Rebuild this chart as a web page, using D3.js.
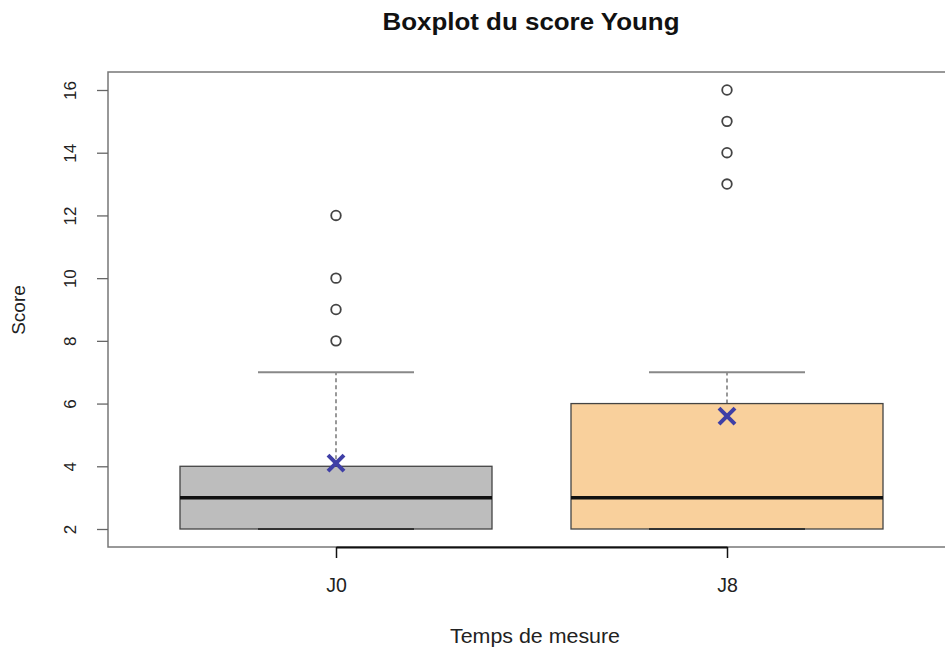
<!DOCTYPE html>
<html><head><meta charset="utf-8">
<script src="https://cdn.jsdelivr.net/npm/d3@7"></script>
<style>body{margin:0;background:#fff}svg{display:block}svg text{font-family:"Liberation Sans",Arial,sans-serif}</style>
</head><body><svg id="c" width="945" height="655"></svg>
<script>
const categories = ["J0", "J8"];
const q1 = [2, 2];
const medians = [3, 3];
const q3 = [4, 6];
const whiskLow = [2, 2];
const whiskHigh = [7, 7];
const means = [4.1, 5.6];
const outliers = [[8, 9, 10, 12], [13, 14, 15, 16]];
const fills = ["#bdbdbd", "#f9d09c"];
const yTicks = [2, 4, 6, 8, 10, 12, 14, 16];

(function () {
const svg = d3.select("#c");
const pLeft = 108, pTop = 72, pBottom = 547, pRight = 1000;
const y = d3.scaleLinear().domain([2, 16]).range([529, 90]);
const x = d3.scalePoint().domain(categories).range([336, 727]);
const halfW = 156, capW = 78;

svg.append("rect").attr("x", pLeft).attr("y", pTop).attr("width", pRight - pLeft).attr("height", pBottom - pTop)
  .attr("fill", "none").attr("stroke", "#777").attr("stroke-width", 1.5);

const ya = svg.append("g").attr("transform", `translate(${pLeft},0)`)
  .call(d3.axisLeft(y).tickValues(yTicks).tickSize(11).tickPadding(0).tickFormat(d3.format("d")));
ya.select(".domain").remove();
ya.selectAll(".tick line").attr("stroke", "#666").attr("stroke-width", 1.3);
ya.selectAll(".tick text").attr("transform", "rotate(-90)").attr("x", 0).attr("y", -38)
  .attr("dy", "0.35em").attr("text-anchor", "middle").style("font-size", "17px").attr("fill", "#222");

const xa = svg.append("g").attr("transform", `translate(0,${pBottom})`)
  .call(d3.axisBottom(x).tickSize(11).tickPadding(0).tickSizeOuter(0));
xa.select(".domain").attr("stroke", "#111").attr("stroke-width", 2);
xa.selectAll(".tick line").attr("stroke", "#111").attr("stroke-width", 1.5);
xa.selectAll(".tick text").attr("y", 45).attr("dy", 0).style("font-size", "19.5px").attr("fill", "#222");

const g = svg.append("g");
categories.forEach((c, i) => {
  const cx = x(c);
  g.append("line").attr("x1", cx).attr("x2", cx).attr("y1", y(q3[i])).attr("y2", y(whiskHigh[i]))
    .attr("stroke", "#555").attr("stroke-width", 1.2).attr("stroke-dasharray", "4,3");
  g.append("line").attr("x1", cx - capW).attr("x2", cx + capW).attr("y1", y(whiskHigh[i])).attr("y2", y(whiskHigh[i]))
    .attr("stroke", "#888").attr("stroke-width", 2);
  g.append("rect").attr("x", cx - halfW).attr("width", 2 * halfW)
    .attr("y", y(q3[i])).attr("height", y(q1[i]) - y(q3[i]))
    .attr("fill", fills[i]).attr("stroke", "#444").attr("stroke-width", 1.3);
  g.append("line").attr("x1", cx - capW).attr("x2", cx + capW).attr("y1", y(whiskLow[i])).attr("y2", y(whiskLow[i]))
    .attr("stroke", "#333").attr("stroke-width", 2);
  g.append("line").attr("x1", cx - halfW).attr("x2", cx + halfW).attr("y1", y(medians[i])).attr("y2", y(medians[i]))
    .attr("stroke", "#111").attr("stroke-width", 3.5);
  outliers[i].forEach(v => {
    g.append("circle").attr("cx", cx).attr("cy", y(v)).attr("r", 4.8)
      .attr("fill", "none").attr("stroke", "#444").attr("stroke-width", 1.8);
  });
  const my = y(means[i]), s = 8;
  g.append("path").attr("d", `M${cx - s},${my - s}L${cx + s},${my + s}M${cx - s},${my + s}L${cx + s},${my - s}`)
    .attr("stroke", "#3f3fa6").attr("stroke-width", 4).attr("fill", "none");
});

svg.append("text").attr("transform", "translate(531,30) scale(1.08,1)").attr("text-anchor", "middle")
  .style("font-size", "24px").attr("font-weight", "bold").attr("fill", "#111").text("Boxplot du score Young");
svg.append("text").attr("transform", "translate(535,643) scale(1.07,1)").attr("text-anchor", "middle")
  .style("font-size", "20px").attr("fill", "#222").text("Temps de mesure");
svg.append("text").attr("transform", "translate(25,310) rotate(-90)").attr("text-anchor", "middle")
  .style("font-size", "19px").attr("fill", "#222").text("Score");
})();
</script></body></html>
